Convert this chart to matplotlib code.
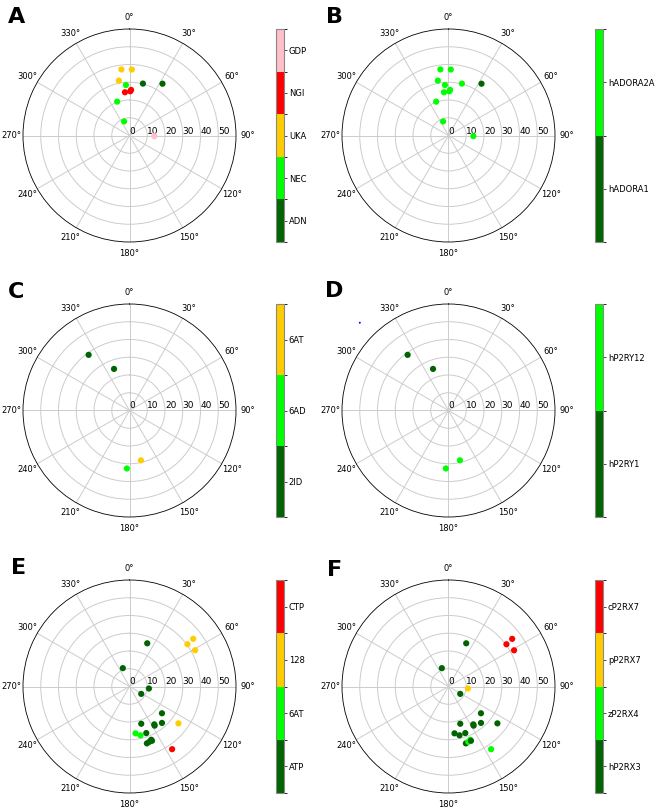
import numpy as np
import matplotlib
matplotlib.use("Agg")
import matplotlib.pyplot as plt
from matplotlib.colors import ListedColormap, BoundaryNorm

# colours used for the categories
c_dark = '#006400'
c_lime = '#00ff00'
c_gold = '#ffcc00'
c_red = '#ff0000'
c_pink = '#ffc0cb'

# A / B : adenosine receptors (same points, different colouring)
ab_theta = [353, 2, 349, 356, 14.5, 32.5, 354, 1, 2, 340, 339, 91.5]
ab_r = [37.5, 37.2, 31.5, 28.5, 30.2, 34.6, 24.5, 24.9, 25.7, 20.3, 8.5, 14.0]
a_labels = ['ADN', 'NEC', 'UKA', 'NGI', 'GDP']
a_cat = [2, 2, 2, 1, 0, 0, 3, 3, 3, 1, 1, 4]
b_labels = ['hADORA1', 'hADORA2A']
b_cat = [1, 1, 1, 1, 1, 0, 1, 1, 1, 1, 1, 1]

# C / D : P2Y receptors
cd_theta = [323.7, 339.6, 167.1, 182.6]
cd_r = [38.9, 25.0, 28.8, 32.7]
c_labels = ['2ID', '6AD', '6AT']
c_cat = [0, 0, 2, 1]
d_labels = ['hP2RY1', 'hP2RY12']
d_cat = [0, 0, 1, 1]
d_stray_theta = [314.7]
d_stray_r = [70.3]

# E / F : P2X receptors
ef_theta = [22.3, 53.9, 53.2, 61.1, 340, 95.9, 122.2, 129.5, 162.5, 146.8, 147.3,
            138.3, 127.0, 160.2, 172.7, 167.3, 163.0, 160.3, 157.8, 157.5, 145.8]
ef_r = [26.3, 40.4, 44.8, 42.2, 11.0, 11.0, 7.8, 23.7, 22.0, 25.5, 26.2,
        27.5, 34.5, 27.9, 26.6, 28.2, 33.5, 33.1, 32.4, 33.1, 42.7]
e_labels = ['ATP', '6AT', '128', 'CTP']
e_cat = [0, 2, 2, 2, 0, 0, 0, 0, 0, 0, 0, 0, 2, 0, 1, 1, 0, 0, 0, 0, 3]
f_labels = ['hP2RX3', 'zP2RX4', 'pP2RX7', 'cP2RX7']
f_cat = [0, 3, 3, 3, 0, 2, 0, 0, 0, 0, 0, 0, 0, 0, 0, 0, 0, 1, 1, 0, 1]

panels = [
    ('A', ab_theta, ab_r, a_cat, a_labels, [c_dark, c_lime, c_gold, c_red, c_pink]),
    ('B', ab_theta, ab_r, b_cat, b_labels, [c_dark, c_lime]),
    ('C', cd_theta, cd_r, c_cat, c_labels, [c_dark, c_lime, c_gold]),
    ('D', cd_theta, cd_r, d_cat, d_labels, [c_dark, c_lime]),
    ('E', ef_theta, ef_r, e_cat, e_labels, [c_dark, c_lime, c_gold, c_red]),
    ('F', ef_theta, ef_r, f_cat, f_labels, [c_dark, c_lime, c_gold, c_red]),
]

W, H = 657, 811
fig = plt.figure(figsize=(W / 100, H / 100), dpi=100)

col_x = [23, 342]      # polar axes left edge (px)
cb_x = [276, 595]      # colorbar left edge (px)
row_y = [29, 304, 580] # top edge (px)
size = 213
letter_pos = [(8, 7), (326, 7), (8, 282), (325, 281), (11, 558), (327, 560)]

def frac(x, y, w, h):
    return [x / W, (H - y - h) / H, w / W, h / H]

for i, (name, th, rr, cat, labels, cols) in enumerate(panels):
    row, col = divmod(i, 2)
    ax = fig.add_axes(frac(col_x[col], row_y[row], size, size), projection='polar')
    ax.set_theta_zero_location('N')
    ax.set_theta_direction(-1)
    cmap = ListedColormap(cols)
    n = len(cols)
    norm = BoundaryNorm(np.arange(n + 1) - 0.5, n)
    sc = ax.scatter(np.deg2rad(th), rr, c=cat, cmap=cmap, norm=norm, s=20,
                    edgecolors='none', zorder=3)
    if name == 'D':
        ax.scatter(np.deg2rad(d_stray_theta), d_stray_r, s=2, c='blue',
                   edgecolors='none', clip_on=False)
    ax.set_rlim(0, 60)
    ax.set_rticks([0, 10, 20, 30, 40, 50])
    ax.set_rlabel_position(90)
    ax.set_thetagrids(np.arange(0, 360, 30),
                      [f'{a}\u00b0' for a in range(0, 360, 30)])
    ax.tick_params(axis='x', labelsize=6, pad=-2)
    ax.tick_params(axis='y', labelsize=6.5)
    ax.grid(color='#cccccc', linewidth=0.7)
    ax.spines['polar'].set_linewidth(0.6)

    cax = fig.add_axes(frac(cb_x[col], row_y[row], 8, size))
    cb = fig.colorbar(sc, cax=cax, ticks=np.arange(n))
    cb.ax.set_yticklabels(labels)
    cb.ax.tick_params(labelsize=6, length=2, width=0.5, pad=1.5)
    cb.outline.set_edgecolor('#888888')
    cb.outline.set_linewidth(0.8)

    lx, ly = letter_pos[i]
    fig.text(lx / W, 1 - ly / H, name, fontsize=16, fontweight='bold',
             va='top', ha='left')

fig.savefig('out.png', dpi=100)
